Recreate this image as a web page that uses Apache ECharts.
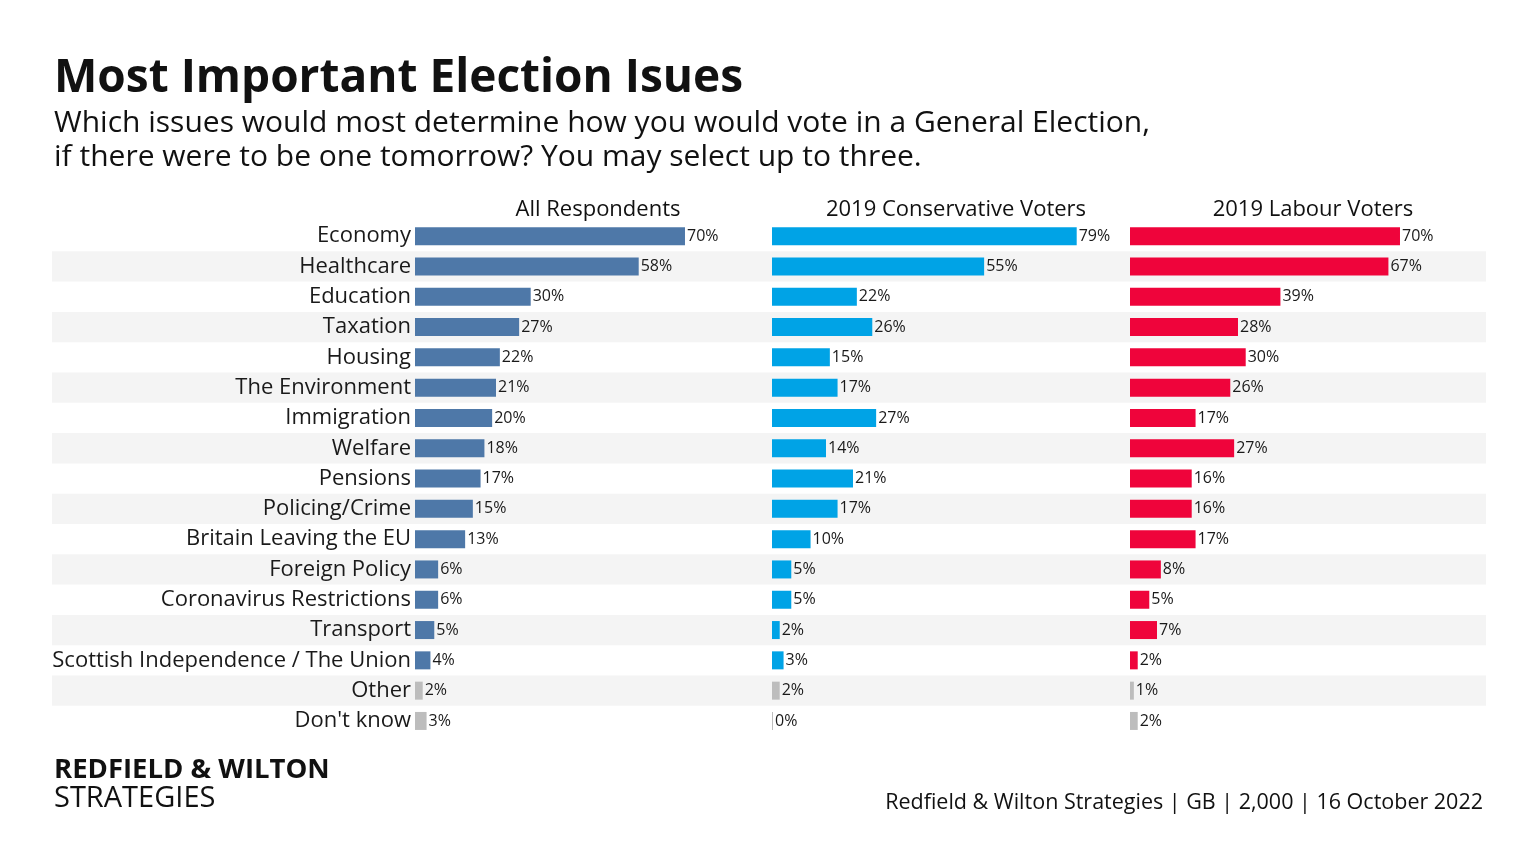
<!DOCTYPE html>
<html><head><meta charset="utf-8">
<script src="https://cdn.jsdelivr.net/npm/echarts@6/dist/echarts.min.js"></script>
<style>html,body{margin:0;padding:0;background:#fff}#c{width:1536px;height:864px}</style>
</head><body><div id="c"></div>
<script>
const categories = ["Economy","Healthcare","Education","Taxation","Housing","The Environment","Immigration","Welfare","Pensions","Policing/Crime","Britain Leaving the EU","Foreign Policy","Coronavirus Restrictions","Transport","Scottish Independence / The Union","Other","Don't know"];
const allRespondents = [70,58,30,27,22,21,20,18,17,15,13,6,6,5,4,2,3];
const conservative = [79,55,22,26,15,17,27,14,21,17,10,5,5,2,3,2,0];
const labour = [70,67,39,28,30,26,17,27,16,16,17,8,5,7,2,1,2];
const panelTitles = ["All Respondents","2019 Conservative Voters","2019 Labour Voters"];
const greyCats = ["Other","Don't know"];

const FONT = "Open Sans";
const colors = ['#4e78a8','#00a3e6','#ef043b'];
const grey = '#bdbdbd';
const gTop = 221, rowH = 30.3, gH = rowH*categories.length;
const pxPer = 3.857, xmax = 90, gW = pxPer*xmax;
const lefts = [415, 772, 1130];

function mk(vals, ci){
  return vals.map((v,i)=>({value:v, itemStyle:{color: greyCats.includes(categories[i]) ? grey : colors[ci]}}));
}
const grids = [{left:52, right:50, top:gTop, height:gH}];
lefts.forEach(l=>grids.push({left:l, width:gW, top:gTop, height:gH}));

const xAxis = [{gridIndex:0, type:'value', show:false, min:0, max:1}];
const yAxis = [{gridIndex:0, type:'category', data:categories, inverse:true, show:true,
  axisLine:{show:false}, axisTick:{show:false}, axisLabel:{show:false},
  splitArea:{show:true, areaStyle:{color:['rgba(0,0,0,0)','#f4f4f4']}}, splitLine:{show:false}}];
lefts.forEach((l,k)=>{
  xAxis.push({gridIndex:k+1, type:'value', min:0, max:xmax, show:false});
  yAxis.push({gridIndex:k+1, type:'category', data:categories, inverse:true,
    axisLine:{show:false}, axisTick:{show:false}, splitLine:{show:false},
    axisLabel:{show:k===0, fontFamily:FONT, fontSize:22, color:'#1a1a1a', margin:4}});
});
const seriesData = [allRespondents, conservative, labour];
const series = seriesData.map((d,k)=>({
  type:'bar', xAxisIndex:k+1, yAxisIndex:k+1, data:mk(d,k), barWidth:18, barMinHeight: k===1?1:0,
  label:{show:true, position:'right', distance:2, formatter:'{c}%', fontFamily:FONT, fontSize:16, color:'#1a1a1a'},
  silent:true
}));

const titles = [
  {text:'Most Important Election Isues', left:49, top:51, textStyle:{fontFamily:FONT, fontWeight:'bold', fontSize:46, color:'#111'}},
  {text:'Which issues would most determine how you would vote in a General Election,\nif there were to be one tomorrow? You may select up to three.', left:49, top:101,
    textStyle:{fontFamily:FONT, fontWeight:'normal', fontSize:30, lineHeight:34, color:'#111'}},
  {text:'REDFIELD & WILTON', left:49, top:751, textStyle:{fontFamily:FONT, fontWeight:'bold', fontSize:27.5, color:'#111'}},
  {text:'STRATEGIES', left:49, top:779, textStyle:{fontFamily:FONT, fontWeight:'normal', fontSize:29, color:'#111'}},
  {text:'Redfield & Wilton Strategies | GB | 2,000 | 16 October 2022', right:48, top:787, textStyle:{fontFamily:FONT, fontWeight:'normal', fontSize:21.5, color:'#111'}}
];
const centers = [593, 951, 1308];
panelTitles.forEach((t,k)=>titles.push({text:t, left:centers[k], top:194, textAlign:'center', textStyle:{fontFamily:FONT, fontWeight:'normal', fontSize:22, color:'#111'}}));

const chart = echarts.init(document.getElementById('c'));
chart.setOption({animation:false, backgroundColor:'#fff', title:titles, grid:grids, xAxis, yAxis, series});
</script></body></html>
